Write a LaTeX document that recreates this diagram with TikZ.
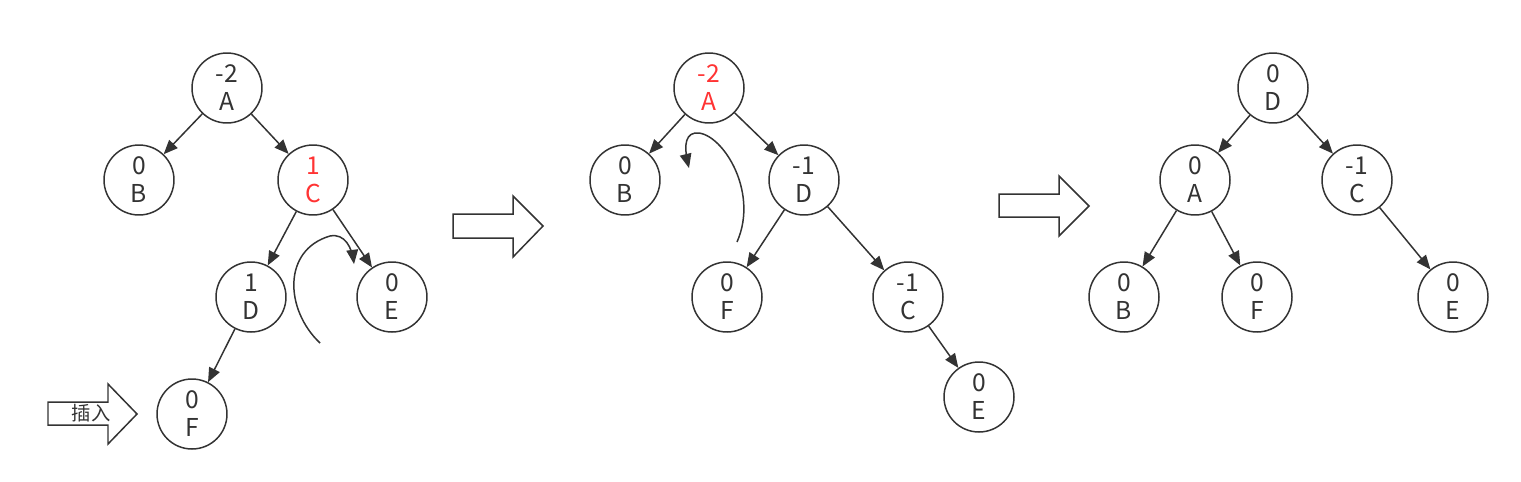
\documentclass[tikz,border=0pt]{standalone}
\usepackage{fontspec}
\setmainfont{Noto Sans CJK SC}
\usepackage{tikz}
\usetikzlibrary{positioning, calc, arrows, shapes}
\tikzset{>=triangle 45}
\definecolor{ink}{HTML}{333333}
\definecolor{hot}{HTML}{FF3333}
\tikzset{
  avl/.style={circle, draw=ink, line width=0.85pt, minimum size=1.4cm, inner sep=0pt,
    align=center, text=ink, font=\fontsize{14}{16}\selectfont},
  bigarrow/.style={draw=ink, line width=0.85pt, fill=white, line join=miter},
}

\begin{document}
\begin{tikzpicture}[x=0.02cm, y=-0.02cm, line width=0.85pt, draw=ink]
    \useasboundingbox (0,0) rectangle (1521,481);

    % before rotation
    \node[avl] (a1) at (227,88) {-2\\A};
    \node[avl] (b1) at (139,180) {0\\B};
    \node[avl, text=hot] (c1) at (313,180) {1\\C};
    \node[avl] (d1) at (251,297) {1\\D};
    \node[avl] (e1) at (392,297) {0\\E};
    \node[avl] (f1) at (192,414) {0\\F};

    \path [->, ink]
    (a1) edge (b1)
    (a1) edge (c1)
    (c1) edge (d1)
    (c1) edge (e1)
    (d1) edge (f1);

    \draw[bigarrow] (48,402) -- (108,402) -- (108,384) -- (137,414) -- (108,444) -- (108,425) -- (48,425) -- cycle;
    \node[text=ink, font=\fontsize{11}{13}\selectfont] (ins) at (91,413) {插入};

    \coordinate (r1s) at (320,343);
    \coordinate (r1t) at (330,236);
    \coordinate (r1e) at (354,264);
    \draw[->, ink] (r1s) .. controls (285,310) and (282,250) .. (r1t)
      .. controls (345,233) and (352,248) .. (r1e);

    \draw[bigarrow] (453,214) -- (513,214) -- (513,196) -- (543,226) -- (513,257) -- (513,238) -- (453,238) -- cycle;

    % after first rotation
    \node[avl, text=hot] (a2) at (709,88) {-2\\A};
    \node[avl] (b2) at (625,180) {0\\B};
    \node[avl] (d2) at (804,180) {-1\\D};
    \node[avl] (f2) at (727,297) {0\\F};
    \node[avl] (c2) at (908,297) {-1\\C};
    \node[avl] (e2) at (979,397) {0\\E};

    \path [->, ink]
    (a2) edge (b2)
    (a2) edge (d2)
    (d2) edge (f2)
    (d2) edge (c2)
    (c2) edge (e2);

    \coordinate (r2s) at (737,242);
    \coordinate (r2t) at (695,133);
    \coordinate (r2e) at (689,168);
    \draw[->, ink] (r2s) .. controls (760,190) and (720,130) .. (r2t)
      .. controls (683,135) and (685,152) .. (r2e);

    \draw[bigarrow] (999,194) -- (1059,194) -- (1059,176) -- (1089,206) -- (1059,236) -- (1059,217) -- (999,217) -- cycle;

    % balanced
    \node[avl] (d3) at (1273,88) {0\\D};
    \node[avl] (a3) at (1195,180) {0\\A};
    \node[avl] (c3) at (1357,180) {-1\\C};
    \node[avl] (b3) at (1124,297) {0\\B};
    \node[avl] (f3) at (1257,297) {0\\F};
    \node[avl] (e3) at (1453,297) {0\\E};

    \path [->, ink]
    (d3) edge (a3)
    (d3) edge (c3)
    (a3) edge (b3)
    (a3) edge (f3)
    (c3) edge (e3);
\end{tikzpicture}
\end{document}
